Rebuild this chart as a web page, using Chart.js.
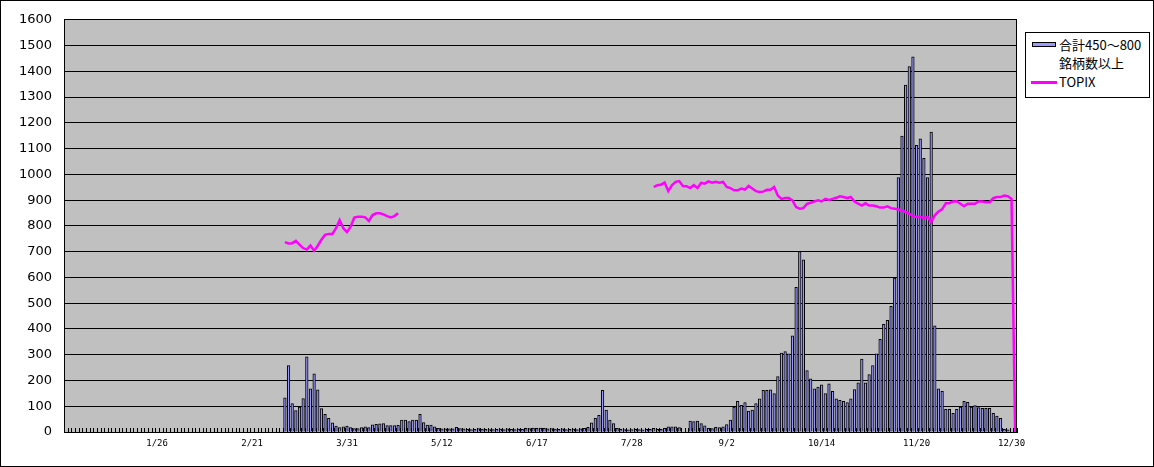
<!DOCTYPE html>
<html>
<head>
<meta charset="utf-8">
<script src="https://cdn.jsdelivr.net/npm/chart.js@4.4.0/dist/chart.umd.min.js"></script>
<style>
  html, body { margin: 0; padding: 0; background: #fff; }
  #wrap { position: relative; width: 1154px; height: 467px; }
  #frame { position: absolute; left: 0; top: 0; width: 1154px; height: 467px; box-sizing: border-box; border: 1px solid #000; pointer-events: none; }
  #legend { position: absolute; left: 1025px; top: 32px; width: 125px; height: 66px; box-sizing: border-box; border: 1px solid #000; background: #fff; font: 13px "Noto Sans CJK JP", sans-serif; color: #000; }
  #legend .txt { position: absolute; left: 33px; line-height: 18px; white-space: nowrap; }
  #legend .box { position: absolute; left: 6px; top: 9px; width: 24px; height: 5px; background: #9999ff; border: 1px solid #000; box-sizing: border-box; }
  #legend .ln { position: absolute; left: 5px; top: 48px; width: 26px; height: 3px; background: #ff00ff; }
</style>
</head>
<body>
<div id="wrap">
  <canvas id="chart" width="1154" height="467"></canvas>
  <div id="legend">
    <div class="box"></div>
    <div class="txt" style="top:3px">合計450～800</div>
    <div class="txt" style="top:21px">銘柄数以上</div>
    <div class="ln"></div>
    <div class="txt" style="top:40px">TOPIX</div>
  </div>
  <div id="frame"></div>
</div>
<script>
// x axis: one category per day, a label every 26 categories
const categoryCount = 261;
const firstLabelIndex = 25;
const labelEvery = 26;
const tickLabels = ['1/26', '2/21', '3/31', '5/12', '6/17', '7/28', '9/2', '10/14', '11/20', '12/30'];

// 合計450～800 銘柄数以上 (bars), starting at category 60
const breadthStart = 60;
const breadth = [
  133, 258, 110, 83, 97, 130, 292, 168, 226, 164,
  91, 69, 53, 36, 23, 17, 20, 23, 17, 13,
  13, 17, 20, 17, 28, 30, 32, 33, 25, 25,
  25, 26, 46, 46, 40, 46, 46, 69, 37, 27,
  27, 20, 14, 12, 12, 12, 12, 18, 13, 12,
  10, 9, 10, 13, 11, 10, 9, 9, 10, 11,
  9, 12, 10, 9, 11, 10, 14, 13, 15, 14,
  15, 14, 12, 13, 11, 10, 12, 9, 10, 11,
  9, 12, 14, 18, 36, 53, 65, 162, 85, 46,
  33, 14, 10, 9, 8, 9, 10, 9, 8, 10,
  10, 14, 10, 10, 14, 20, 20, 20, 17, 0,
  0, 42, 40, 42, 33, 24, 14, 13, 18, 17,
  20, 29, 46, 97, 119, 104, 114, 81, 85, 110,
  129, 162, 162, 164, 149, 215, 306, 312, 303, 373,
  562, 700, 668, 238, 206, 168, 174, 183, 149, 187,
  158, 129, 123, 119, 114, 129, 165, 191, 283, 191,
  223, 258, 303, 360, 418, 433, 488, 597, 988, 1149,
  1347, 1418, 1456, 1113, 1138, 1062, 988, 1164, 412, 168,
  158, 88, 88, 72, 88, 97, 119, 115, 97, 103,
  95, 92, 92, 92, 72, 62, 53, 10, 8, 0,
  0
];

// TOPIX, two stretches with data
const topixSpringStart = 60;
const topixSpring = [
  737, 732, 733, 742, 727, 714, 708, 724, 704, 723,
  746, 765, 769, 769, 791, 823, 791, 776, 797, 832,
  836, 836, 833, 819, 842, 849, 849, 845, 838, 833,
  838, 849
];
const topixAutumnStart = 161;
const topixAutumn = [
  951, 958, 960, 968, 935, 958, 971, 974, 955, 954,
  947, 958, 947, 967, 964, 973, 968, 971, 968, 971,
  951, 947, 938, 938, 945, 941, 955, 945, 935, 932,
  933, 940, 940, 951, 918, 905, 908, 908, 899, 873,
  867, 869, 886, 890, 895, 899, 895, 905, 901, 905,
  909, 915, 912, 908, 912, 895, 886, 879, 888, 879,
  879, 876, 871, 871, 876, 869, 867, 864, 860, 854,
  847, 838, 835, 835, 831, 835, 815, 841, 856, 864,
  888, 888, 895, 896, 886, 876, 886, 886, 886, 895,
  895, 892, 892, 908, 912, 912, 918, 915, 905, 0
];

const labels = Array(categoryCount).fill('');
tickLabels.forEach((t, k) => { labels[firstLabelIndex + k * labelEvery] = t; });

function placeSeries(start, values) {
  const arr = Array(categoryCount).fill(null);
  values.forEach((v, i) => { arr[start + i] = v; });
  return arr;
}

const topixData = placeSeries(topixSpringStart, topixSpring);
placeSeries(topixAutumnStart, topixAutumn).forEach((v, i) => { if (v !== null) topixData[i] = v; });

// gray plot area
const plotBackground = {
  id: 'plotBackground',
  beforeDraw(chart) {
    const { ctx, chartArea: a } = chart;
    ctx.save();
    ctx.fillStyle = '#c0c0c0';
    ctx.fillRect(a.left, a.top, a.right - a.left, a.bottom - a.top);
    ctx.restore();
  },
  afterDraw(chart) {
    const { ctx, chartArea: a } = chart;
    ctx.save();
    ctx.strokeStyle = '#000';
    ctx.lineWidth = 1;
    ctx.beginPath();
    ctx.moveTo(Math.round(a.right) - 0.5, a.top);
    ctx.lineTo(Math.round(a.right) - 0.5, a.bottom);
    ctx.stroke();
    ctx.restore();
  }
};

// small tick marks pointing up into the plot, between categories
const innerTicks = {
  id: 'innerTicks',
  afterDatasetsDraw(chart) {
    const { ctx, chartArea: a } = chart;
    const step = (a.right - a.left) / categoryCount;
    ctx.save();
    ctx.strokeStyle = '#000';
    ctx.lineWidth = 1;
    ctx.beginPath();
    for (let i = 0; i <= categoryCount; i++) {
      const x = Math.round(a.left + i * step) + 0.5;
      ctx.moveTo(x, a.bottom);
      ctx.lineTo(x, a.bottom - 4);
    }
    ctx.stroke();
    ctx.restore();
  }
};

new Chart(document.getElementById('chart').getContext('2d'), {
  type: 'bar',
  data: {
    labels: labels,
    datasets: [
      {
        type: 'line',
        label: 'TOPIX',
        data: topixData,
        borderColor: '#ff00ff',
        borderWidth: 2.5,
        pointRadius: 0,
        tension: 0,
        spanGaps: false,
        order: 0
      },
      {
        type: 'bar',
        label: '合計450～800 銘柄数以上',
        data: placeSeries(breadthStart, breadth),
        backgroundColor: '#9999ff',
        borderColor: '#000',
        borderWidth: 1,
        barThickness: 2.6,
        order: 1
      }
    ]
  },
  options: {
    responsive: false,
    animation: false,
    devicePixelRatio: 1,
    layout: { padding: { left: 0, top: 16, right: 137, bottom: 0 } },
    plugins: { legend: { display: false }, tooltip: { enabled: false } },
    scales: {
      x: {
        offset: true,
        grid: { display: true, drawOnChartArea: false, drawTicks: false },
        border: { display: true, color: '#000', width: 1 },
        ticks: {
          autoSkip: false,
          maxRotation: 0,
          minRotation: 0,
          padding: 6,
          color: '#000',
          font: { family: 'DejaVu Sans Mono', size: 9 },
          callback: (v, i) => labels[i]
        },
        afterFit: s => { s.height = 35; }
      },
      y: {
        min: 0,
        max: 1600,
        ticks: {
          stepSize: 100,
          padding: 12,
          color: '#000',
          font: { family: 'DejaVu Sans', size: 13 },
          callback: v => String(v)
        },
        grid: { color: '#000', lineWidth: 1, drawTicks: false },
        border: { display: true, color: '#000', width: 1 },
        afterFit: s => { s.width = 64; }
      }
    }
  },
  plugins: [plotBackground, innerTicks]
});
</script>
</body>
</html>
